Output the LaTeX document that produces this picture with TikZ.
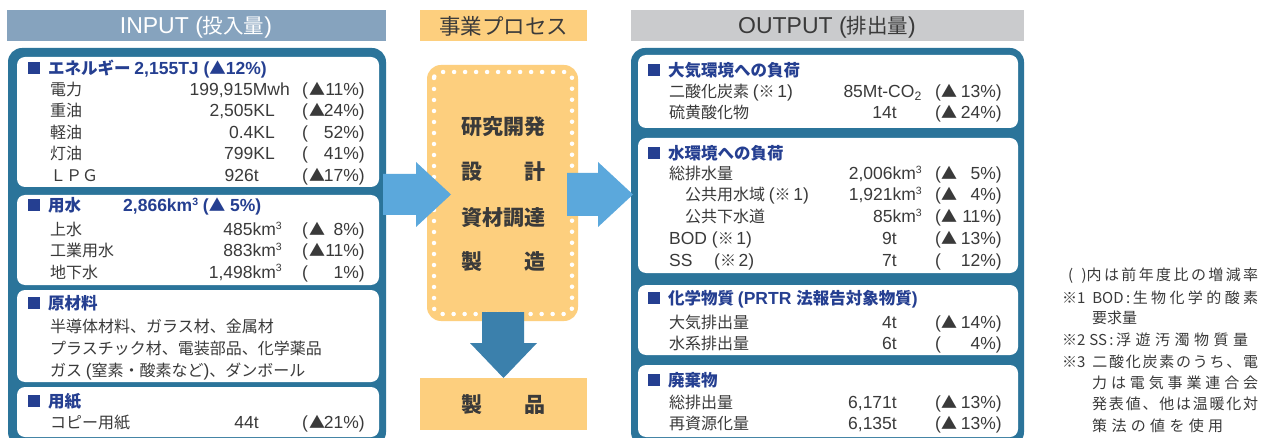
\documentclass[tikz,border=0pt]{standalone}
\usepackage{fontspec}
\setmainfont{Noto Sans CJK JP}
\newfontfamily\lat{Liberation Sans}
\definecolor{outerblue}{HTML}{2B749A}
\definecolor{hblue}{HTML}{253F91}
\definecolor{lightarrow}{HTML}{5BA8DC}
\definecolor{downarrow}{HTML}{3B80AC}
\definecolor{orangebox}{HTML}{FDCF7E}
\definecolor{inhdr}{HTML}{86A3BE}
\definecolor{outhdr}{HTML}{CACBCD}
\definecolor{txt}{HTML}{3A3A3A}
\tikzset{
  rowtxt/.style={anchor=west, inner sep=0pt, text height=12pt, text depth=0pt, font=\fontsize{16}{16}\selectfont, text=txt},
  numtxt/.style={rowtxt, font=\fontsize{17.5}{17.5}\selectfont\lat},
  valtxt/.style={numtxt, anchor=east},
  hdtxt/.style={rowtxt, text height=12.5pt, font=\fontsize{16.5}{17}\selectfont\bfseries, text=hblue},
  sq/.style={fill=hblue, minimum size=12pt, inner sep=0pt},
  wbox/.style={fill=white, rounded corners=8pt},
  fntxt/.style={anchor=west, inner sep=0pt, text height=11pt, text depth=0pt, font=\fontsize{15}{15}\selectfont, text=txt},
  proctxt/.style={inner sep=0pt, font=\fontsize{21}{21}\selectfont\bfseries, text=txt},
  hdrtxt/.style={inner sep=0pt, text height=17pt, text depth=0pt, font=\fontsize{20.5}{20.5}\selectfont},
}
\newcommand\hl[1]{{\fontsize{17.5}{17.5}\selectfont\lat #1}}
\newcommand\cube{\raisebox{0.65ex}{\fontsize{10.5}{10.5}\selectfont 3}}
% input row: name, y, label, value, value right x, triangle, pct
\newcommand\irow[7]{%
  \node[rowtxt] (#1l) at (50,#2) {#3};
  \node[valtxt] (#1v) at (#5,#2) {#4};
  \node[numtxt] (#1p) at (302,#2) {(};
  \node[rowtxt] (#1t) at (309,#2) {#6};
  \node[valtxt] (#1q) at (365,#2) {#7};
}
% output row: name, x, y, label, value, value right x, triangle, pct
\newcommand\orow[8]{%
  \node[rowtxt] (#1l) at (#2,#3) {#4};
  \node[valtxt] (#1v) at (#6,#3) {#5};
  \node[numtxt] (#1p) at (935,#3) {(};
  \node[rowtxt] (#1t) at (941,#3) {#7};
  \node[valtxt] (#1q) at (1002,#3) {#8};
}
\begin{document}
\begin{tikzpicture}[x=1pt,y=-1pt]
\useasboundingbox (0,0) rectangle (1265,438);
\clip (0,0) rectangle (1265,438);
\fill[white] (0,0) rectangle (1265,438);

% headers
\fill[inhdr] (7,10) rectangle (386,41);
\node[hdrtxt, text=white] (inhead) at (196,25.5) {{\fontsize{23}{23}\selectfont\lat INPUT (}投入量{\fontsize{23}{23}\selectfont\lat )}};
\fill[orangebox] (420,10) rectangle (587,41);
\node[inner sep=0pt, text=txt, font=\fontsize{21.5}{21.5}\selectfont] (prochead) at (503.5,26) {事業プロセス};
\fill[outhdr] (631,10) rectangle (1024,41);
\node[hdrtxt, text=txt] (outhead) at (827,25.5) {{\fontsize{23}{23}\selectfont\lat OUTPUT (}排出量{\fontsize{23}{23}\selectfont\lat )}};

% input outer box
\fill[outerblue, rounded corners=14pt] (8,48) rectangle (386,446);
\fill[wbox] (17,57) rectangle (379,187);
\fill[wbox] (17,195) rectangle (379,285);
\fill[wbox] (17,290) rectangle (379,382);
\fill[wbox] (17,387) rectangle (379,437);

% energy
\node[sq] (sqE) at (34,68) {};
\node[hdtxt] (hE) at (48,68) {エネルギー \hl{2,155TJ (}▲\hl{12\%)}};
\irow{e1}{90}{電力}{199,915Mwh}{290}{▲}{11\%)}
\irow{e2}{111}{重油}{2,505KL}{275}{▲}{24\%)}
\irow{e3}{133}{軽油}{0.4KL}{275}{}{52\%)}
\irow{e4}{154}{灯油}{799KL}{275}{}{41\%)}
\irow{e5}{176}{ＬＰＧ}{926t}{259}{▲}{17\%)}

% water
\node[sq] (sqW) at (34,205) {};
\node[hdtxt] (hW) at (48,205) {用水};
\node[hdtxt] (hW2) at (123,205) {\hl{2,866km\cube{} (}▲\hl{ 5\%)}};
\irow{w1}{230}{上水}{485km\cube}{282}{▲}{8\%)}
\irow{w2}{251}{工業用水}{883km\cube}{282}{▲}{11\%)}
\irow{w3}{272}{地下水}{1,498km\cube}{282}{}{1\%)}

% raw materials
\node[sq] (sqR) at (34,303) {};
\node[hdtxt] (hR) at (48,303) {原材料};
\node[rowtxt] (r1) at (50,326) {半導体材料、ガラス材、金属材};
\node[rowtxt] (r2) at (50,348) {プラスチック材、電装部品、化学薬品};
\node[rowtxt] (r3) at (50,370) {ガス \hl{(}窒素・酸素など\hl{)}、ダンボール};

% paper
\node[sq] (sqP) at (34,401) {};
\node[hdtxt] (hP) at (48,401) {用紙};
\irow{p1}{422}{コピー用紙}{44t}{259}{▲}{21\%)}

% process box
\fill[orangebox, rounded corners=14pt] (427,65) rectangle (578,321);
\draw[white, line width=4.5pt, line cap=round, dash pattern=on 0pt off 11pt, rounded corners=6pt] (434,72) rectangle (572,314);
\node[proctxt] (s1) at (503.5,127) {研究開発};
\node[proctxt] (s2) at (503.5,172) {\makebox[85pt]{設\hfill 計}};
\node[proctxt] (s3) at (503.5,218) {資材調達};
\node[proctxt] (s4) at (503.5,262) {\makebox[85pt]{製\hfill 造}};

% product box
\fill[orangebox] (420,378) rectangle (587,430);
\node[proctxt] (prod) at (503.5,405) {\makebox[85pt]{製\hfill 品}};

% output outer box
\fill[outerblue, rounded corners=14pt] (631,48) rectangle (1024,446);
\fill[wbox] (638,55) rectangle (1018,128);
\fill[wbox] (638,138) rectangle (1018,273);
\fill[wbox] (638,285) rectangle (1018,355);
\fill[wbox] (638,365) rectangle (1018,437);

% air
\node[sq] (sqA) at (654,70) {};
\node[hdtxt] (hA) at (668,70) {大気環境への負荷};
\orow{a1}{669}{92}{二酸化炭素 \hl{(}※\,\hl{1)}}{85Mt-CO\textsubscript{2}}{922}{▲}{13\%)}
\orow{a2}{669}{113}{硫黄酸化物}{14t}{897}{▲}{24\%)}

% water load
\node[sq] (sqB) at (654,153) {};
\node[hdtxt] (hB) at (668,153) {水環境への負荷};
\orow{b1}{669}{174}{総排水量}{2,006km\cube}{922}{▲}{5\%)}
\orow{b2}{685}{195}{公共用水域 \hl{(}※\,\hl{1)}}{1,921km\cube}{922}{▲}{4\%)}
\orow{b3}{685}{217}{公共下水道}{85km\cube}{922}{▲}{11\%)}
\orow{b4}{669}{238}{\hl{BOD (}※\,\hl{1)}}{9t}{897}{▲}{13\%)}
\orow{b5}{669}{260}{\hl{SS}}{7t}{897}{}{12\%)}
\node[rowtxt] (b5n) at (714,260) {\hl{(}※\,\hl{2)}};

% chemicals
\node[sq] (sqC) at (654,298) {};
\node[hdtxt] (hC) at (668,298) {化学物質 \hl{(PRTR }法報告対象物質\hl{)}};
\orow{c1}{669}{322}{大気排出量}{4t}{897}{▲}{14\%)}
\orow{c2}{669}{343}{水系排出量}{6t}{897}{}{4\%)}

% waste
\node[sq] (sqD) at (654,380) {};
\node[hdtxt] (hD) at (668,380) {廃棄物};
\orow{d1}{669}{402}{総排出量}{6,171t}{897}{▲}{13\%)}
\orow{d2}{669}{423}{再資源化量}{6,135t}{897}{▲}{13\%)}

% block arrows
\fill[lightarrow] (383,174) -- (416,174) -- (416,162) -- (451,194.5) -- (416,227) -- (416,215) -- (383,215) -- cycle;
\fill[lightarrow] (567,173) -- (598,173) -- (598,162) -- (633,194.5) -- (598,227) -- (598,216) -- (567,216) -- cycle;
\fill[downarrow] (482,312) -- (524,312) -- (524,343) -- (537,343) -- (503.5,378) -- (470,343) -- (482,343) -- cycle;

% footnotes
\node[fntxt] (f1) at (1068,275) {\makebox[190pt]{(\hspace{0.55em})内\hfill は\hfill 前\hfill 年\hfill 度\hfill 比\hfill の\hfill 増\hfill 減\hfill 率}};
\node[fntxt] (f2) at (1062,298) {\makebox[196pt]{※1\hspace{0.45em}BOD\,:\,生\hfill 物\hfill 化\hfill 学\hfill 的\hfill 酸\hfill 素}};
\node[fntxt] (f3) at (1092,318) {要求量};
\node[fntxt] (f4) at (1062,340) {\makebox[186pt]{※2\hspace{0.25em}SS\,:\,浮\hfill 遊\hfill 汚\hfill 濁\hfill 物\hfill 質\hfill 量}};
\node[fntxt] (f5) at (1062,362) {\makebox[196pt]{※3\hspace{0.45em}二\hfill 酸\hfill 化\hfill 炭\hfill 素\hfill の\hfill う\hfill ち\hfill 、\hfill 電}};
\node[fntxt] (f6) at (1092,383) {\makebox[166pt]{力\hfill は\hfill 電\hfill 気\hfill 事\hfill 業\hfill 連\hfill 合\hfill 会}};
\node[fntxt] (f7) at (1092,404) {\makebox[166pt]{発\hfill 表\hfill 値\hfill 、\hfill 他\hfill は\hfill 温\hfill 暖\hfill 化\hfill 対}};
\node[fntxt] (f8) at (1092,426) {\makebox[131pt]{策\hfill 法\hfill の\hfill 値\hfill を\hfill 使\hfill 用}};
\end{tikzpicture}
\end{document}
